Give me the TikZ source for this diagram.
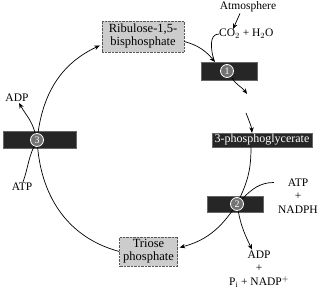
\documentclass[tikz,border=0pt]{standalone}
\usepackage{fontspec}
\setmainfont{Liberation Serif}
\usetikzlibrary{arrows.meta,calc}
\begin{document}
\begin{tikzpicture}[x=1pt,y=1pt,
  every node/.style={font=\fontsize{11.5}{13.5}\selectfont},
  arr/.style={-{Stealth[length=5.5pt,width=4.5pt]},line width=0.7pt},
  ln/.style={line width=0.7pt},
  darkbox/.style={fill=black!85,draw=black!60,inner sep=0pt},
  greybox/.style={fill=gray!40,draw=black!65,densely dotted,align=center,inner sep=0pt,
     font=\fontsize{12.5}{13}\selectfont},
  numc/.style={circle,draw=white,line width=0.8pt,fill=black!55,text=white,inner sep=0pt,
     minimum size=13pt,font=\fontsize{10}{10}\selectfont},
  lbl/.style={align=center,inner sep=0pt}]
\useasboundingbox (0,0) rectangle (321,291);
% boxes
\node[greybox,minimum width=82pt,minimum height=31pt] (rib) at (143,254.5) {Ribulose-1,5-\\bisphosphate};
\node[darkbox,minimum width=56pt,minimum height=18pt] (b1) at (229,220) {};
\node[numc] (c1) at (227,220) {1};
\node[darkbox,minimum width=100pt,minimum height=14pt,text=white,font=\fontsize{12}{12}\selectfont] (pg) at (262,151) {3-phosphoglycerate};
\node[darkbox,minimum width=56pt,minimum height=16pt] (b2) at (235,86.5) {};
\node[numc] (c2) at (237,87) {2};
\node[darkbox,minimum width=73pt,minimum height=17pt] (b3) at (40,151) {};
\node[numc] (c3) at (37,151) {3};
\node[greybox,minimum width=58pt,minimum height=29pt] (tri) at (148.5,39.5) {Triose\\phosphate};
% labels
\node[lbl] (atm) at (248,284) {Atmosphere};
\node[lbl,anchor=west] (co2) at (219,257) {CO$_2$ + H$_2$O};
\node[lbl] (adpL) at (17,193) {ADP};
\node[lbl] (atpL) at (22,104) {ATP};
\node[lbl] (atpR) at (298,95) {ATP\\+\\NADPH};
\node[lbl] (adpR) at (259,22) {ADP\\+\\P$_\mathrm{i}$ + NADP$^+$};
% helper coordinates
\coordinate (t1) at (215,229);
\coordinate (m1) at (247,197);
\coordinate (m2) at (246,178);
% connectors
\draw[arr] ($(rib.east)+(0,-5)$) to[out=-15,in=130] (t1);
\draw[ln] (co2.west) to[out=180,in=105] ($(t1)+(-1,1)$);
\draw[arr] ($(atm.south)+(-8,-1)$) -- ($(co2.north west)+(14,0)$);
\draw[arr] ($(c1.south)+(5,0)$) to[out=-60,in=125] (m1);
\draw[ln] (m2) -- ++(2,-5);
\draw[arr] ($(m2)+(2,-5)$) to[out=-70,in=95] ($(pg.north)+(-10,0)$);
\draw[ln] ($(pg.south)+(-11,0)$) to[out=-90,in=65] (c2);
\draw[ln] ($(atpR.north west)+(-4,-4)$) to[out=180,in=45] (c2);
\draw[arr] (c2) to[out=-125,in=15] ($(tri.east)+(2,4)$);
\draw[arr] (c2) to[out=-80,in=115] ($(adpR.north)+(-7,1)$);
\draw[ln] (tri.west) to[out=165,in=-85] (c3);
\draw[arr] (c3) to[out=82,in=205] ($(rib.west)+(-2,-9)$);
\draw[arr] (c3) to[out=105,in=-60] ($(adpL.south)+(2,-1)$);
\draw[ln] ($(atpL.north)+(1,1)$) to[out=70,in=-115] (c3);
\end{tikzpicture}
\end{document}
